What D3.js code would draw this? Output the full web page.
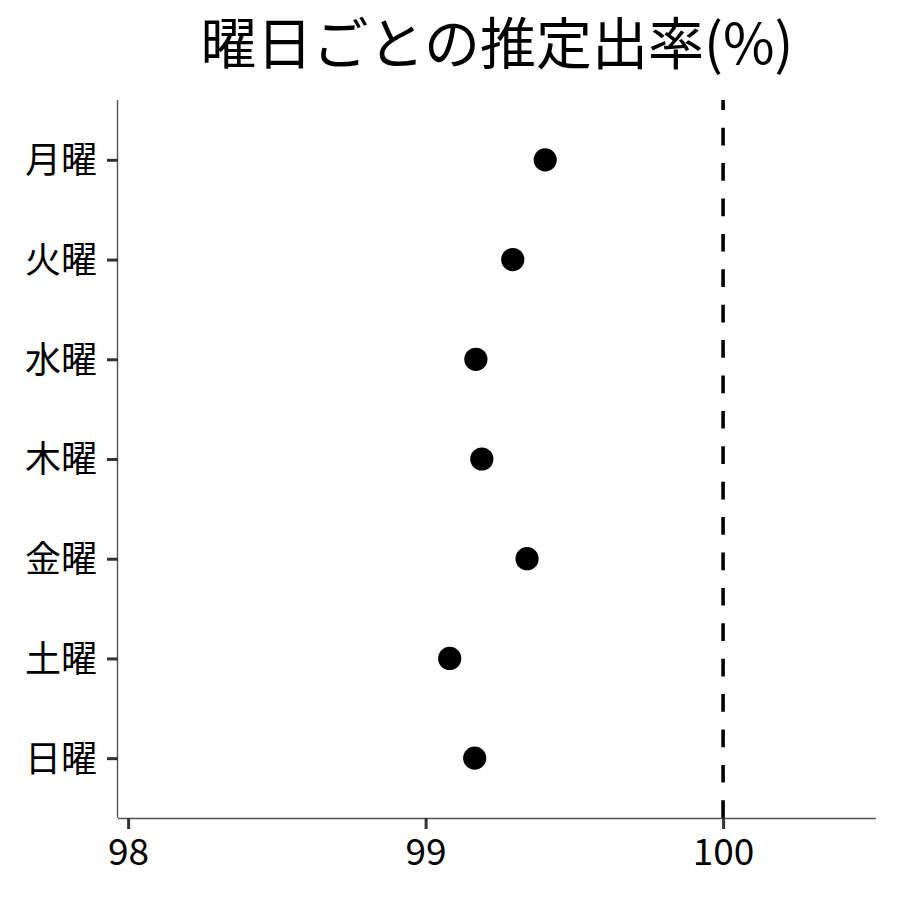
<!DOCTYPE html>
<html>
<head>
<meta charset="utf-8">
<script src="https://cdn.jsdelivr.net/npm/d3@7"></script>
<style>
  body { margin: 0; background: #fff; }
  svg { font-family: "Noto Sans CJK JP", "Noto Sans", sans-serif; }
</style>
</head>
<body>
<svg id="chart" width="900" height="900"></svg>
<script>
// Data
const days = ["月曜", "火曜", "水曜", "木曜", "金曜", "土曜", "日曜"];
const rates = [99.402, 99.293, 99.169, 99.189, 99.341, 99.081, 99.165];
const xTicks = [98, 99, 100];
const refLine = 100;
const title = "曜日ごとの推定出率(%)";

const width = 900, height = 900;
const margin = { top: 100, right: 24, bottom: 82, left: 118 };
const chartWidth = width - margin.left - margin.right;
const chartHeight = height - margin.top - margin.bottom;
const fontFamily = '"Noto Sans CJK JP", "Noto Sans", sans-serif';

const svg = d3.select("#chart");

// Scales
const x = d3.scaleLinear()
  .domain([97.966, 100.514])
  .range([0, chartWidth]);

const y = d3.scalePoint()
  .domain(days)
  .range([0, chartHeight])
  .padding(0.6);

const chartGroup = svg.append("g")
  .attr("transform", `translate(${margin.left},${margin.top})`);

// Reference line (drawn bottom to top so dashes start at the axis)
chartGroup.append("line")
  .attr("x1", x(refLine))
  .attr("x2", x(refLine))
  .attr("y1", chartHeight)
  .attr("y2", 0)
  .attr("stroke", "#000")
  .attr("stroke-width", 3.6)
  .attr("stroke-dasharray", "17.7,17.7");

// Points
chartGroup.selectAll("circle")
  .data(days.map((d, i) => ({ day: d, value: rates[i] })))
  .enter()
  .append("circle")
  .attr("cx", (d) => x(d.value))
  .attr("cy", (d) => y(d.day))
  .attr("r", 11.6)
  .attr("fill", "#000");

// x-axis
const xAxis = d3.axisBottom(x).tickValues(xTicks).tickSize(11).tickPadding(10)
  .tickFormat(d3.format("d"));

const gx = chartGroup.append("g")
  .attr("transform", `translate(0,${chartHeight})`)
  .call(xAxis)
  .attr("font-family", fontFamily);
gx.select(".domain").attr("stroke", "#555").attr("stroke-width", 1.4)
  .attr("d", `M0,0.5H${chartWidth}`);
gx.selectAll(".tick line").attr("stroke", "#333").attr("stroke-width", 3);
gx.selectAll("text")
  .attr("fill", "#000")
  .style("font-size", "37px");

// y-axis
const yAxis = d3.axisLeft(y).tickSize(11).tickPadding(10);
const gy = chartGroup.append("g")
  .call(yAxis)
  .attr("font-family", fontFamily);
gy.select(".domain").attr("stroke", "#555").attr("stroke-width", 1.4)
  .attr("d", `M-0.5,0V${chartHeight}`);
gy.selectAll(".tick line").attr("stroke", "#333").attr("stroke-width", 3);
gy.selectAll("text")
  .attr("fill", "#000")
  .attr("dy", "0.36em")
  .style("font-size", "36px");

// Title
svg.append("text")
  .attr("x", margin.left + chartWidth / 2)
  .attr("y", 64)
  .attr("text-anchor", "middle")
  .style("font-size", "56px")
  .attr("fill", "#000")
  .text(title);
</script>
</body>
</html>
